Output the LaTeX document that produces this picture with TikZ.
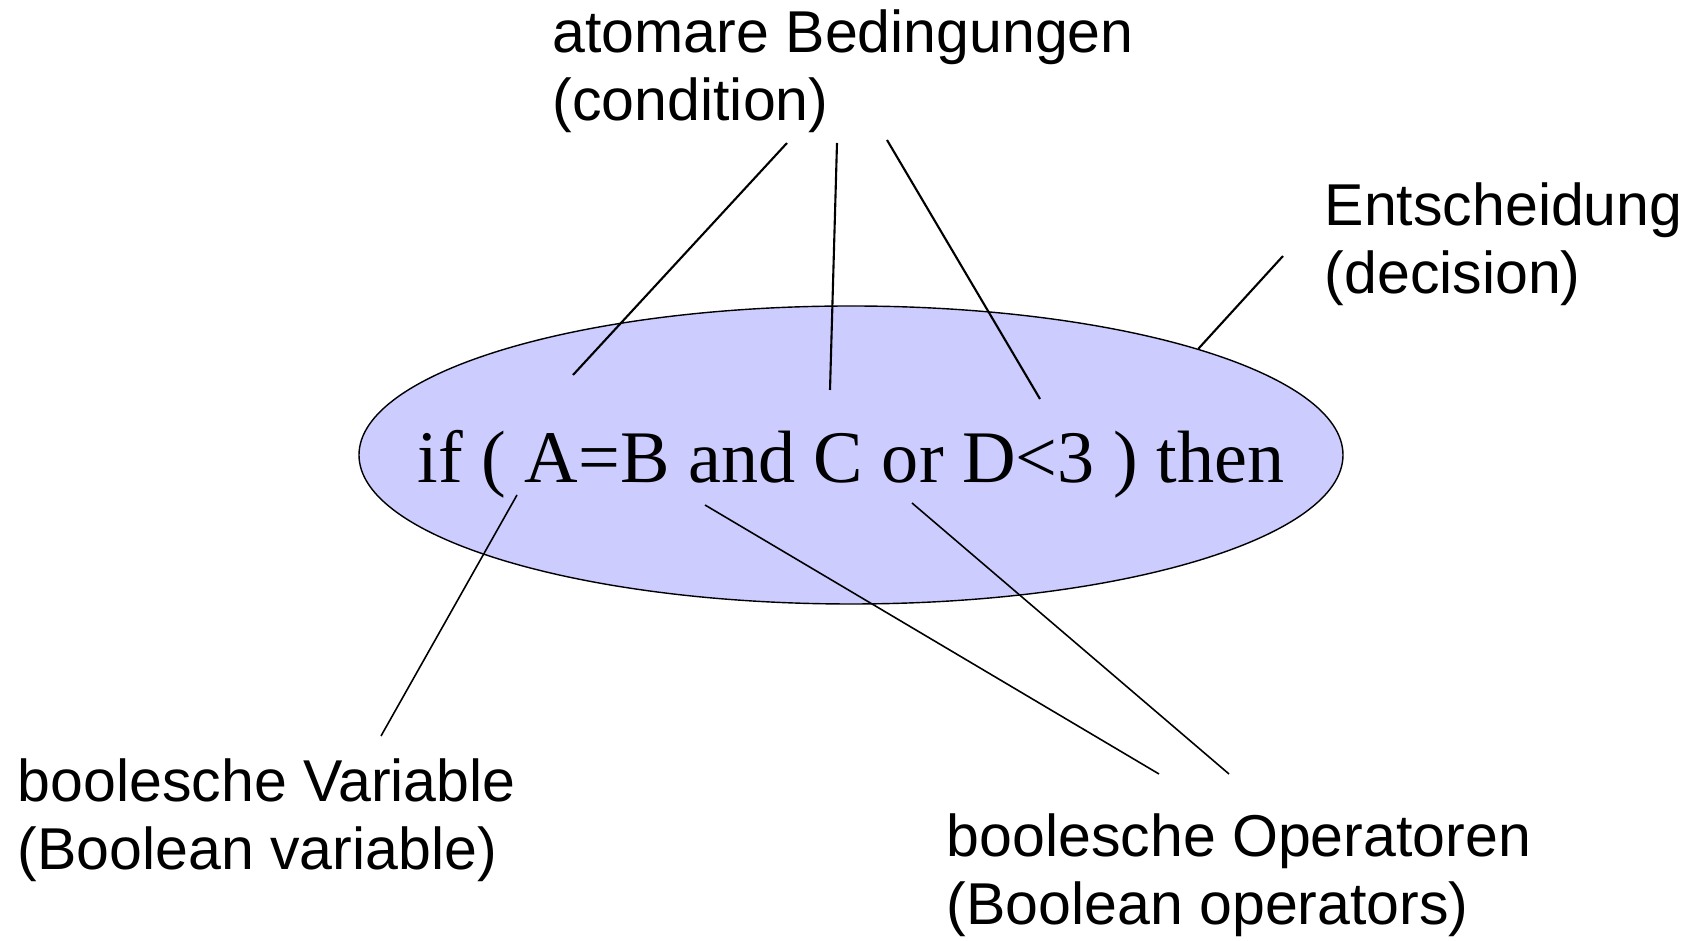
\documentclass[tikz,border=0pt]{standalone}
\usepackage{fontspec}
\setmainfont{Liberation Sans}
\newfontfamily\serifcode{Liberation Serif}
\usepackage{xcolor}
\definecolor{lilaFill}{RGB}{204,204,255}
\usetikzlibrary{shapes.geometric,positioning,calc}

\begin{document}
\begin{tikzpicture}[
        cond/.style={ellipse,draw=black,fill=lilaFill,line width=0.4pt,
                     minimum width=9.84cm,minimum height=2.98cm,inner sep=0pt},
        code/.style={anchor=base,inner sep=0pt,
                     font=\fontsize{21.1}{25}\serifcode},
        lbl/.style={anchor=base west,align=left,inner sep=0pt,
                    font=\fontsize{16.8}{19.4}\selectfont},
        ptr/.style={line width=0.6pt},
        ptrthin/.style={line width=0.45pt}]
        \useasboundingbox (0,0) rectangle (16.91,9.41);
        \node[cond] (dec) at (8.51,4.86) {};
        \node[code] (expr) at (8.51,4.58) {if ( A=B and C or D<3 ) then};
        \node[lbl]  (atom)   at (5.52,8.20)  {atomare Bedingungen\\(condition)};
        \node[lbl]  (entsch) at (13.24,6.47) {Entscheidung\\(decision)};
        \node[lbl]  (bvar)   at (0.17,0.71)  {boolesche Variable\\(Boolean variable)};
        \node[lbl]  (bop)    at (9.46,0.16)  {boolesche Operatoren\\(Boolean operators)};
        \coordinate (atomA) at (7.87,7.98);
        \coordinate (atomB) at (8.37,7.98);
        \coordinate (atomC) at (8.87,8.01);
        \coordinate (condA) at (5.73,5.66);
        \coordinate (condB) at (8.30,5.51);
        \coordinate (condC) at (10.40,5.42);
        \coordinate (entschP) at (12.83,6.85);
        \coordinate (varP) at (5.17,4.46);
        \coordinate (varE) at (3.81,2.05);
        \coordinate (andP) at (7.05,4.36);
        \coordinate (orP)  at (9.12,4.38);
        \coordinate (opE1) at (11.59,1.67);
        \coordinate (opE2) at (12.29,1.67);
        \draw[ptr] (atomA)--(condA);
        \draw[ptr] (atomB)--(condB);
        \draw[ptr] (atomC)--(condC);
        \draw[ptr] (entschP)--(dec.17);
        \draw[ptrthin] (varP)--(varE);
        \draw[ptrthin] (andP)--(opE1);
        \draw[ptrthin] (orP)--(opE2);
      \end{tikzpicture}
\end{document}
